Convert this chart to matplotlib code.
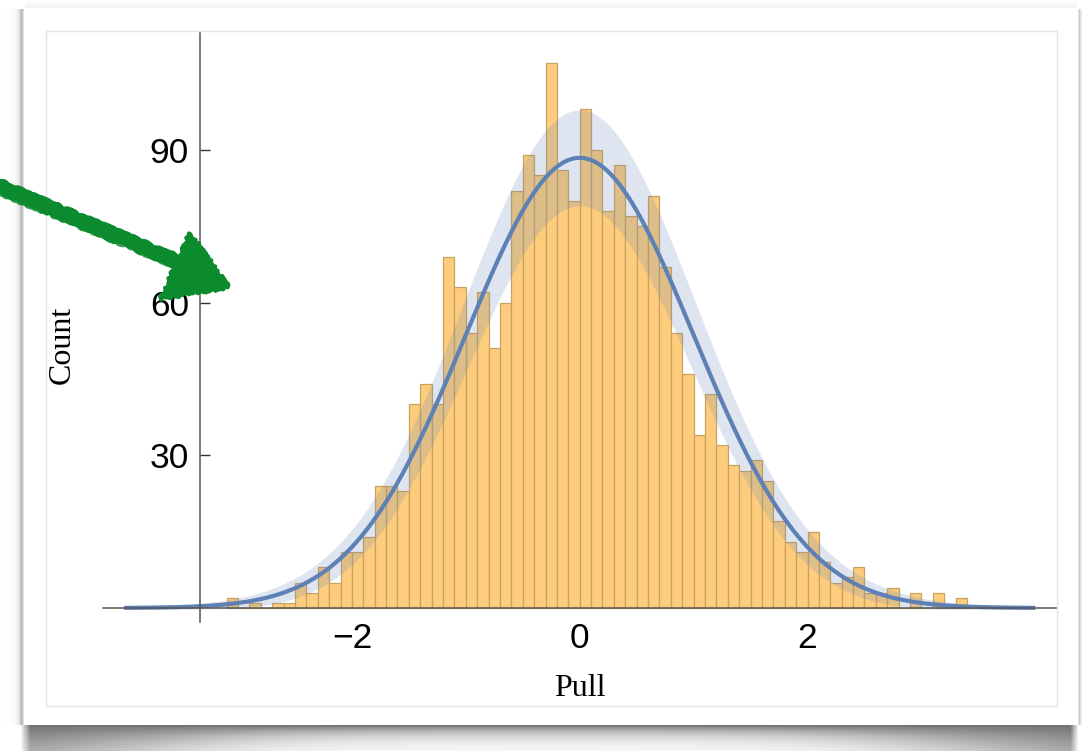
import numpy as np
import matplotlib
matplotlib.use("Agg")
import matplotlib.pyplot as plt
from matplotlib.patches import Rectangle, Polygon
from matplotlib.lines import Line2D

# ---- data -------------------------------------------------------------
bin_start = -3.1
bin_width = 0.1
counts = [
    2, 0, 1, 0, 1, 1, 5, 3, 8, 5,
    11, 11, 14, 24, 24, 23, 40, 44, 40, 69,
    63, 54, 62, 51, 60, 82, 89, 85, 107, 86,
    80, 98, 90, 78, 87, 77, 75, 81, 67, 54,
    46, 34, 42, 32, 28, 27, 29, 25, 17, 13,
    11, 15, 9, 5, 6, 8, 3, 3, 4, 0,
    3, 0, 3, 0, 2,
]
fit_mean = 0.0
fit_sigma = 1.0
x_ticks = [-2, 0, 2]
x_tick_labels = ["\u22122", "0", "2"]
y_ticks = [30, 60, 90]
y_tick_labels = ["30", "60", "90"]

W, H = 1082, 751
DPI = 100

counts = np.array(counts, dtype=float)
lefts = bin_start + bin_width * np.arange(len(counts))


def fx(px):
    return px / W


def fy(py):
    return 1.0 - py / H


fig = plt.figure(figsize=(W / DPI, H / DPI), dpi=DPI)

# ---- card background with drop shadow ---------------------------------
yy, xx = np.mgrid[0:H, 0:W].astype(float)
dark = np.zeros((H, W))
card_l, card_r, card_t, card_b = 24, 1077, 8, 725
# bottom curled shadow
t = (xx - 550) / 520.0
h = 9 + 40 * t ** 4
below = yy - card_b
sh = 0.55 * np.exp(-np.clip(below, 0, None) / h)
sh *= np.clip((xx - 20) / 10.0, 0, 1) * np.clip((W - 4 - xx) / 8.0, 0, 1)
dark = np.where(below >= 0, sh, dark)
# thin side / top shadows
left_sh = 0.3 * np.exp(-np.abs(xx - (card_l - 3)) / 2.5)
right_sh = 0.2 * np.exp(-np.abs(xx - (card_r + 2)) / 2.0)
top_sh = 0.06 * np.exp(-np.abs(yy - (card_t - 2)) / 2.0)
side_mask = (yy > card_t) & (yy < card_b)
dark = np.maximum(dark, np.where(side_mask & (xx < card_l), left_sh, 0))
dark = np.maximum(dark, np.where(side_mask & (xx > card_r), right_sh, 0))
dark = np.maximum(dark, np.where((yy < card_t) & (xx > card_l) & (xx < card_r), top_sh, 0))
bg = np.clip(1.0 - dark, 0, 1)
img = np.dstack([bg, bg, bg])
fig.figimage(img, 0, 0, origin="upper", zorder=0)

# inner frame
fig.add_artist(Rectangle((fx(46), fy(706)), fx(1057) - fx(46), fy(31) - fy(706),
                         transform=fig.transFigure, fill=False,
                         edgecolor="#e4e4e4", linewidth=1.0, zorder=1))

# ---- main axes ---------------------------------------------------------
ax_l, ax_r, ax_t, ax_b = 103, 1056, 33, 622
ax = fig.add_axes([fx(ax_l), fy(ax_b), fx(ax_r) - fx(ax_l), fy(ax_t) - fy(ax_b)])
ax.set_facecolor("none")
ax.set_zorder(2)

px_per_unit = 113.9
x0_px = 579.7
px_per_count = 5.09
y0_px = 608.0
ax.set_xlim((ax_l - x0_px) / px_per_unit, (ax_r - x0_px) / px_per_unit)
ax.set_ylim((y0_px - ax_b) / px_per_count, (y0_px - ax_t) / px_per_count)

# histogram
ax.bar(lefts, counts, width=bin_width, align="edge",
       color="#fdcc7d", edgecolor="#c9a263", linewidth=0.9, zorder=2)

# fitted normal curve scaled to counts, with +/- sqrt band
total = counts.sum()
xc = np.linspace(-4, 4, 600)
mu = total * bin_width * np.exp(-0.5 * ((xc - fit_mean) / fit_sigma) ** 2) / (np.sqrt(2 * np.pi) * fit_sigma)
blue = "#5e81b5"
ax.fill_between(xc, mu - np.sqrt(mu), mu + np.sqrt(mu), color=blue, alpha=0.2,
                linewidth=0, zorder=3)
ax.plot(xc, mu, color=blue, linewidth=3.0, zorder=4, solid_capstyle="butt")

# axes styling
for s in ("top", "right"):
    ax.spines[s].set_visible(False)
ax.spines["left"].set_position(("data", (200 - x0_px) / px_per_unit))
ax.spines["bottom"].set_position(("data", 0))
for s in ("left", "bottom"):
    ax.spines[s].set_color("#555555")
    ax.spines[s].set_linewidth(1.1)
    ax.spines[s].set_zorder(5)

ax.set_xticks(x_ticks)
ax.set_xticklabels(x_tick_labels)
ax.set_yticks(y_ticks)
ax.set_yticklabels(y_tick_labels)
ax.tick_params(axis="both", direction="in", length=7.2, width=1.0, color="#333333",
               labelsize=25.5, labelcolor="black")
ax.tick_params(axis="x", pad=10)
ax.tick_params(axis="y", pad=8)
for lab in ax.get_xticklabels() + ax.get_yticklabels():
    lab.set_family("Liberation Sans")

fig.text(fx(62), fy(345), "Count", rotation=90, ha="center", va="center",
         fontsize=23, family="Liberation Serif", color="black")
fig.text(fx(580), fy(689), "Pull", ha="center", va="center",
         fontsize=23, family="Liberation Serif", color="black")

# ---- hand-drawn green arrow -------------------------------------------
ov = fig.add_axes([0, 0, 1, 1])
ov.set_xlim(0, W)
ov.set_ylim(H, 0)
ov.axis("off")
ov.set_zorder(10)
green = "#0b8a2e"
shaft = Line2D([-6, 183], [184, 264], color=green, linewidth=10, solid_capstyle="round")
shaft.set_sketch_params(scale=1.6, length=12, randomness=30)
ov.add_line(shaft)
shaft2 = Line2D([-6, 183], [187, 266], color=green, linewidth=7, alpha=0.8)
shaft2.set_sketch_params(scale=2.2, length=8, randomness=40)
ov.add_line(shaft2)
head = Polygon([[190, 234], [228, 287], [161, 298]], closed=True,
               facecolor=green, edgecolor=green, linewidth=3, joinstyle="round")
head.set_sketch_params(scale=1.8, length=8, randomness=30)
ov.add_patch(head)

fig.savefig("out.png", dpi=DPI)
